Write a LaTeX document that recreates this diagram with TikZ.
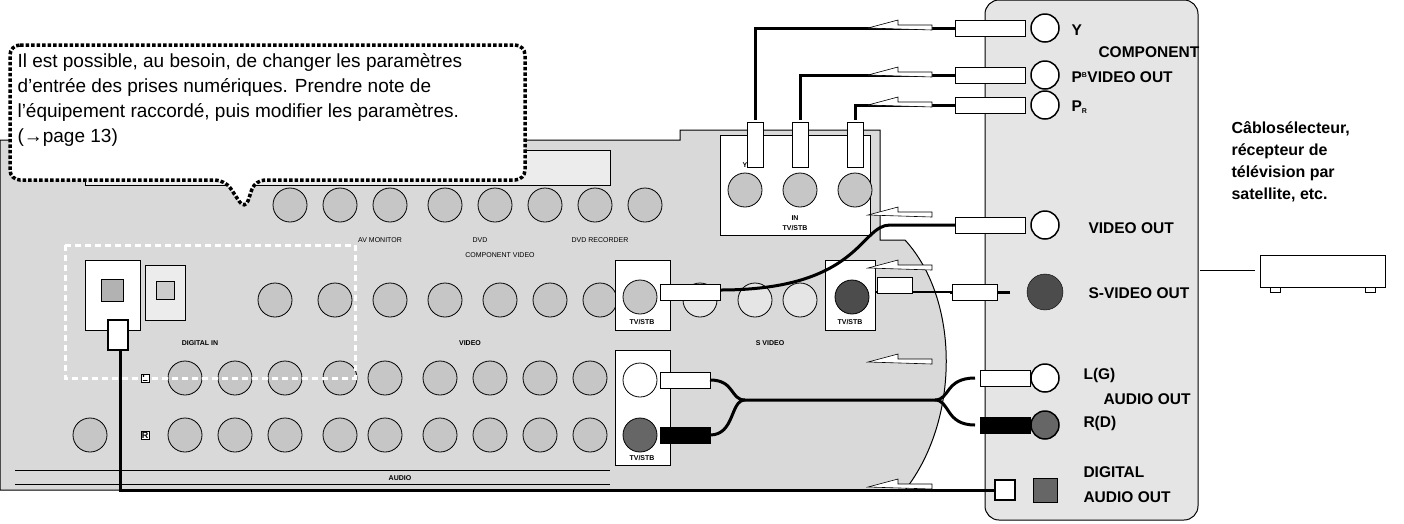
\documentclass[tikz,border=0pt]{standalone}
\usepackage{fontspec}
\setmainfont{Liberation Sans}
\begin{document}
\begin{tikzpicture}[x=1pt,y=-1pt,
 jack/.style={circle,draw=black,fill=gray!45,line width=0.8pt,minimum size=34pt,inner sep=0pt},
 cable/.style={line width=3pt,black},
 arr/.style={draw=black,fill=white,line width=0.6pt},
 lbl/.style={font=\bfseries\fontsize{15.5}{16}\selectfont,anchor=west},
 tiny/.style={font=\fontsize{7}{7}\selectfont},
 plug/.style={draw=black,fill=white,line width=1pt,minimum width=30pt,minimum height=16pt,inner sep=0pt}]
\useasboundingbox (0,0) rectangle (1404,523);
% receiver back panel
\draw[fill=gray!30,line width=1pt] (0,140) -- (680,140) -- (680,130) -- (880,130) -- (880,240) -- (905,240) .. controls (960,300) and (960,420) .. (905,490) -- (0,490) -- cycle;
\draw[fill=gray!15] (85,150) rectangle (610,185);
\draw[fill=white] (720,135) rectangle (870,235);
\node[tiny] at (795,228) {\bfseries TV/STB};
\foreach \x/\t in {745/Y,800/P\textsubscript{R},855/P\textsubscript{B}} {\node[jack] (c\x) at (\x,190) {}; \node[tiny] at (\x,165){\bfseries\t};}
\node[tiny] at (795,218) {\bfseries IN};
\foreach \x in {290,340,390,445,495,545,595,645} \node[jack] at (\x,205) {};
\node[tiny] at (380,240) {AV MONITOR};
\node[tiny] at (480,240) {DVD};
\node[tiny] at (600,240) {DVD RECORDER};
\node[tiny] at (500,255) {COMPONENT VIDEO};
% row2
\draw[fill=white] (85,260) rectangle (140,330);
\node[draw,fill=gray!60,minimum size=22pt] (opt1) at (112,290) {};
\draw[fill=gray!15] (145,265) rectangle (185,320);
\node[draw,fill=gray!40,minimum size=18pt] at (165,290) {};
\foreach \x in {275,335,390,445,500,550,600} \node[jack] at (\x,300) {};
\node[tiny] at (200,343) {\bfseries DIGITAL IN};
\node[tiny] at (470,343) {\bfseries VIDEO};
\node[tiny] at (770,343) {\bfseries S VIDEO};
\draw[fill=white] (615,260) rectangle (670,330);
\node[jack] (vid) at (640,297) {};
\node[tiny] at (642,322) {\bfseries TV/STB};
\foreach \x in {700,755,800} \node[jack,fill=gray!20] at (\x,300) {};
\draw[fill=white] (825,260) rectangle (875,330);
\node[jack,fill=black!70] (sv) at (852,297) {};
\node[tiny] at (850,322) {\bfseries TV/STB};
% rows 3/4
\foreach \x in {185,235,285,340,385,440,490,540,590} {\node[jack] at (\x,378) {}; \node[jack] at (\x,435) {};}
\node[draw,fill=white,font=\bfseries\small,inner sep=1pt] at (145,378) {L};
\node[draw,fill=white,font=\bfseries\small,inner sep=1pt] at (145,435) {R};
\node[jack] at (90,435) {};
\draw[fill=white] (615,350) rectangle (670,465);
\node[jack,fill=white] (aL) at (640,380) {};
\node[jack,fill=black!60] (aR) at (640,435) {};
\node[tiny] at (642,458) {\bfseries TV/STB};
\node[tiny] at (400,478) {\bfseries AUDIO};
\draw (15,470) -- (610,470); \draw (15,484) -- (610,484);
% highlight
\draw[white,line width=3pt,dash pattern=on 6pt off 4pt] (65,245) rectangle (355,378);
% right panel
\draw[fill=gray!20,line width=1pt,rounded corners=14pt] (985,0) rectangle (1198,520);
\foreach \y/\f in {28/white,75/white,105/white,225/white,378/white,425/black!60} \node[circle,draw,line width=1.5pt,fill=\f,minimum size=28pt] at (1045,\y) {};
\node[circle,draw,fill=black!70,minimum size=36pt] (svo) at (1045,292) {};
\node[draw,fill=black!60,minimum size=24pt] at (1045,490) {};
\node[lbl] at (1068,30) {Y};
\node[lbl] at (1095,52) {COMPONENT};
\node[lbl] at (1068,77) {P\textsuperscript{\scriptsize B}VIDEO OUT};
\node[lbl] at (1068,107) {P\textsubscript{\scriptsize R}};
\node[lbl] at (1085,228) {VIDEO OUT};
\node[lbl] at (1085,293) {S-VIDEO OUT};
\node[lbl] at (1080,375) {L(G)};
\node[lbl] at (1100,399) {AUDIO OUT};
\node[lbl] at (1080,423) {R(D)};
\node[lbl] at (1080,472) {DIGITAL};
\node[lbl] at (1080,497) {AUDIO OUT};
\node[font=\bfseries\fontsize{16}{22}\selectfont,align=left,anchor=north west] at (1228,118) {Câblosélecteur,\\récepteur de\\télévision par\\satellite, etc.};
\draw[line width=1pt] (1200,270) -- (1255,270);
\draw[line width=1pt,fill=white] (1260,255) rectangle (1385,287);
\draw (1270,287) -- (1270,292) -- (1280,292) -- (1280,287);
\draw (1365,287) -- (1365,292) -- (1375,292) -- (1375,287);
% cables
\draw[cable] (960,28) -- (755,28) -- (755,120);
\draw[cable] (960,75) -- (800,75) -- (800,120);
\draw[cable] (960,105) -- (855,105) -- (855,120);
\foreach \x in {755,800,855} \node[plug,minimum width=16pt,minimum height=45pt] at (\x,145) {};
\foreach \y in {28,75,105,225} \node[plug,minimum width=70pt] at (990,\y) {};
\draw[cable] (955,225) -- (890,225) .. controls (860,225) and (860,290) .. (720,290);
\node[plug,minimum width=60pt] at (690,292) {};
\draw[cable] (1010,292) -- (950,292); \node[plug,minimum width=45pt] at (975,292) {};
\draw[line width=1.5pt] (875,292) -- (950,292);
\node[plug,minimum width=35pt] at (895,285) {};
\node[plug,minimum width=50pt] at (685,380) {};
\node[plug,fill=black,minimum width=50pt] at (685,435) {};
\draw[cable] (710,380) .. controls (735,380) and (730,400) .. (745,400) -- (935,400) .. controls (950,400) and (945,378) .. (975,378);
\draw[cable] (710,435) .. controls (735,435) and (730,400) .. (745,400);
\draw[cable] (935,400) .. controls (950,400) and (945,425) .. (975,425);
\node[plug,minimum width=50pt] at (1005,378) {};
\node[plug,fill=black,minimum width=50pt] at (1005,425) {};
\draw[cable] (1000,490) -- (120,490) -- (120,345);
\node[draw,fill=white,line width=1.5pt,minimum size=20pt] at (1005,490) {};
\node[draw,fill=white,line width=1.5pt,minimum width=20pt,minimum height=30pt] at (118,335) {};
% arrows
\foreach \y in {28,75,105,215,268,362,487}
 \draw[arr] (868,\y) -- (898,\y-8) -- (898,\y-3) -- (932,\y-3) -- (932,\y+2) -- cycle;
% callout
\draw[fill=white,line width=3.5pt,dotted,rounded corners=10pt] (10,45) -- (525,45) -- (525,180) -- (255,180) -- (245,210) -- (225,180) -- (10,180) -- cycle;
\node[anchor=north west,align=left,font=\fontsize{19}{25}\selectfont] at (14,50) {Il est possible, au besoin, de changer les paramètres\\d'entrée des prises numériques. Prendre note de\\l'équipement raccordé, puis modifier les paramètres.\\(\textrightarrow page 13)};
\end{tikzpicture}
\end{document}
